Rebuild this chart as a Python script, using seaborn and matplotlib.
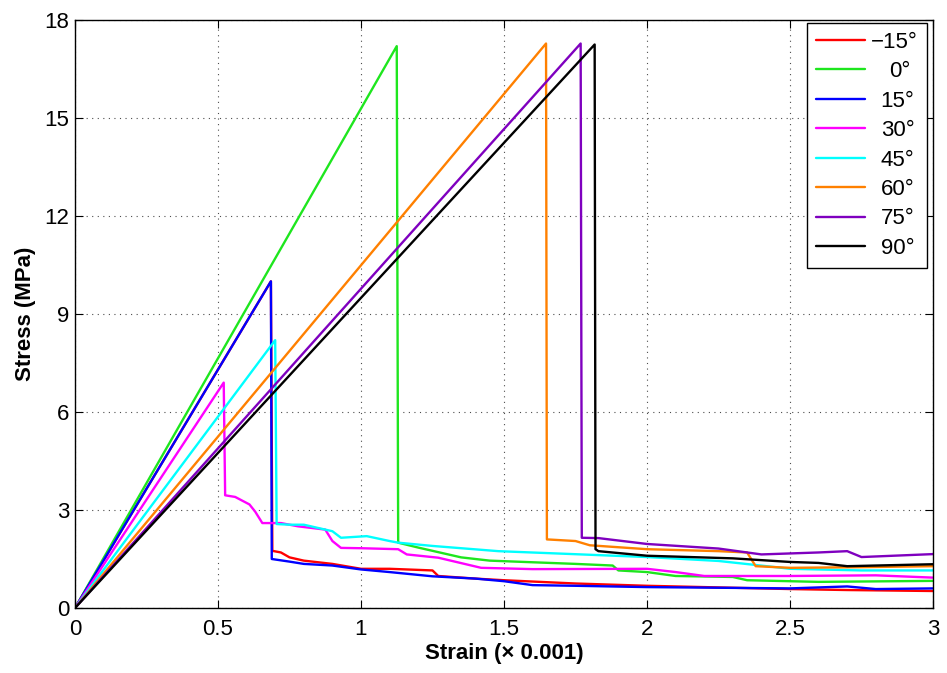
import numpy as np
import pandas as pd
import seaborn as sns
import matplotlib.pyplot as plt

# legend labels and line colours (MATLAB style)
angles = ["−15°", "0°", "15°", "30°", "45°", "60°", "75°", "90°"]
colors = ["#ff0000", "#1ee61e", "#0000ff", "#ff00ff", "#00ffff", "#ff8000", "#7f00bf", "#000000"]

# stress-strain curves (strain x 0.001, stress MPa)
strain_m15 = [0, 0.685, 0.69, 0.72, 0.75, 0.8, 0.9, 1.0, 1.1, 1.25, 1.27, 1.4, 1.5, 1.75, 2.0, 2.25, 2.5, 2.7, 3.0]
stress_m15 = [0, 10.0, 1.75, 1.7, 1.55, 1.45, 1.35, 1.2, 1.2, 1.15, 0.98, 0.9, 0.85, 0.75, 0.68, 0.63, 0.58, 0.55, 0.52]

strain_0 = [0, 1.125, 1.13, 1.2, 1.25, 1.35, 1.45, 1.6, 1.75, 1.88, 1.9, 2.0, 2.1, 2.3, 2.35, 2.6, 3.0]
stress_0 = [0, 17.2, 2.0, 1.85, 1.75, 1.55, 1.45, 1.4, 1.35, 1.3, 1.15, 1.1, 0.98, 0.95, 0.85, 0.8, 0.83]

strain_15 = [0, 0.685, 0.688, 0.75, 0.8, 0.9, 1.0, 1.1, 1.25, 1.4, 1.5, 1.6, 1.75, 2.0, 2.25, 2.5, 2.7, 2.8, 3.0]
stress_15 = [0, 10.0, 1.5, 1.42, 1.35, 1.3, 1.18, 1.1, 0.97, 0.9, 0.82, 0.7, 0.68, 0.64, 0.62, 0.6, 0.66, 0.58, 0.6]

strain_30 = [0, 0.52, 0.525, 0.56, 0.61, 0.63, 0.655, 0.72, 0.78, 0.875, 0.9, 0.93, 1.0, 1.13, 1.16, 1.27, 1.42, 1.6, 2.0, 2.1, 2.2, 2.5, 2.8, 3.0]
stress_30 = [0, 6.9, 3.45, 3.4, 3.17, 2.95, 2.6, 2.6, 2.5, 2.4, 2.05, 1.84, 1.83, 1.8, 1.64, 1.54, 1.23, 1.19, 1.2, 1.1, 0.98, 0.98, 1.0, 0.93]

strain_45 = [0, 0.70, 0.705, 0.75, 0.8, 0.85, 0.9, 0.93, 1.02, 1.1, 1.13, 1.25, 1.48, 1.77, 2.0, 2.25, 2.45, 2.5, 2.75, 3.0]
stress_45 = [0, 8.2, 2.57, 2.55, 2.55, 2.45, 2.35, 2.15, 2.2, 2.05, 2.0, 1.9, 1.74, 1.64, 1.56, 1.44, 1.25, 1.2, 1.15, 1.15]

strain_60 = [0, 1.647, 1.65, 1.75, 1.8, 2.0, 2.25, 2.35, 2.38, 2.5, 2.75, 3.0]
stress_60 = [0, 17.28, 2.1, 2.05, 1.92, 1.8, 1.74, 1.7, 1.28, 1.23, 1.25, 1.28]

strain_75 = [0, 1.768, 1.772, 1.83, 2.0, 2.25, 2.4, 2.6, 2.7, 2.75, 3.0]
stress_75 = [0, 17.28, 2.15, 2.14, 1.96, 1.82, 1.64, 1.7, 1.74, 1.56, 1.65]

strain_90 = [0, 1.817, 1.82, 1.83, 2.0, 2.3, 2.5, 2.6, 2.7, 3.0]
stress_90 = [0, 17.25, 1.8, 1.74, 1.6, 1.52, 1.41, 1.38, 1.28, 1.34]

xticks = [0, 0.5, 1, 1.5, 2, 2.5, 3]
xticklabels = ["0", "0.5", "1", "1.5", "2", "2.5", "3"]
yticks = [0, 3, 6, 9, 12, 15, 18]

series = [(strain_m15, stress_m15), (strain_0, stress_0), (strain_15, stress_15),
          (strain_30, stress_30), (strain_45, stress_45), (strain_60, stress_60),
          (strain_75, stress_75), (strain_90, stress_90)]

frames = []
for ang, (x, y) in zip(angles, series):
    frames.append(pd.DataFrame({"strain": x, "stress": y, "angle": ang}))
df = pd.concat(frames, ignore_index=True)

sns.set_theme(style="ticks")
plt.rcParams["font.family"] = ["Liberation Sans", "DejaVu Sans"]

fig = plt.figure(figsize=(9.47, 6.73), dpi=100)
ax = fig.add_axes([75 / 947, 1 - 608 / 673, 858 / 947, 588 / 673])

sns.lineplot(data=df, x="strain", y="stress", hue="angle", hue_order=angles,
             palette=colors, estimator=None, sort=False, linewidth=1.7, ax=ax)

ax.set_xlim(0, 3)
ax.set_ylim(0, 18)
ax.set_xticks(xticks)
ax.set_xticklabels(xticklabels)
ax.set_yticks(yticks)
ax.grid(True, linestyle=(0, (1, 4)), color="0.3", linewidth=0.8)
ax.tick_params(direction="in", length=6, width=0.8, top=True, right=True,
               labelsize=16, colors="black")
ax.tick_params(axis="x", pad=8)
ax.tick_params(axis="y", pad=4)
for s in ax.spines.values():
    s.set_linewidth(1.0)
    s.set_color("black")

ax.set_xlabel("Strain (× 0.001)", fontsize=16, fontweight="bold", labelpad=2, color="black")
ax.set_ylabel("Stress (MPa)", fontsize=16, fontweight="bold", labelpad=6, color="black")

leg = ax.legend(loc="upper right", bbox_to_anchor=(0.993, 0.995), borderaxespad=0,
                fontsize=16, frameon=True, fancybox=False, framealpha=1,
                edgecolor="black", handlelength=2.2, handletextpad=0.3,
                labelspacing=0.38, borderpad=0.4)
leg.get_frame().set_linewidth(1.0)
for line in leg.get_lines():
    line.set_linewidth(1.7)

# right-align legend labels like the original
fig.canvas.draw()
renderer = fig.canvas.get_renderer()
texts = leg.get_texts()
widths = [t.get_window_extent(renderer).width for t in texts]
maxw = max(widths)
for t, w in zip(texts, widths):
    t.set_color("black")
    t.set_position(((maxw - w) * 72 / fig.dpi, 0))

fig.savefig("out.png", dpi=100, facecolor="white")
